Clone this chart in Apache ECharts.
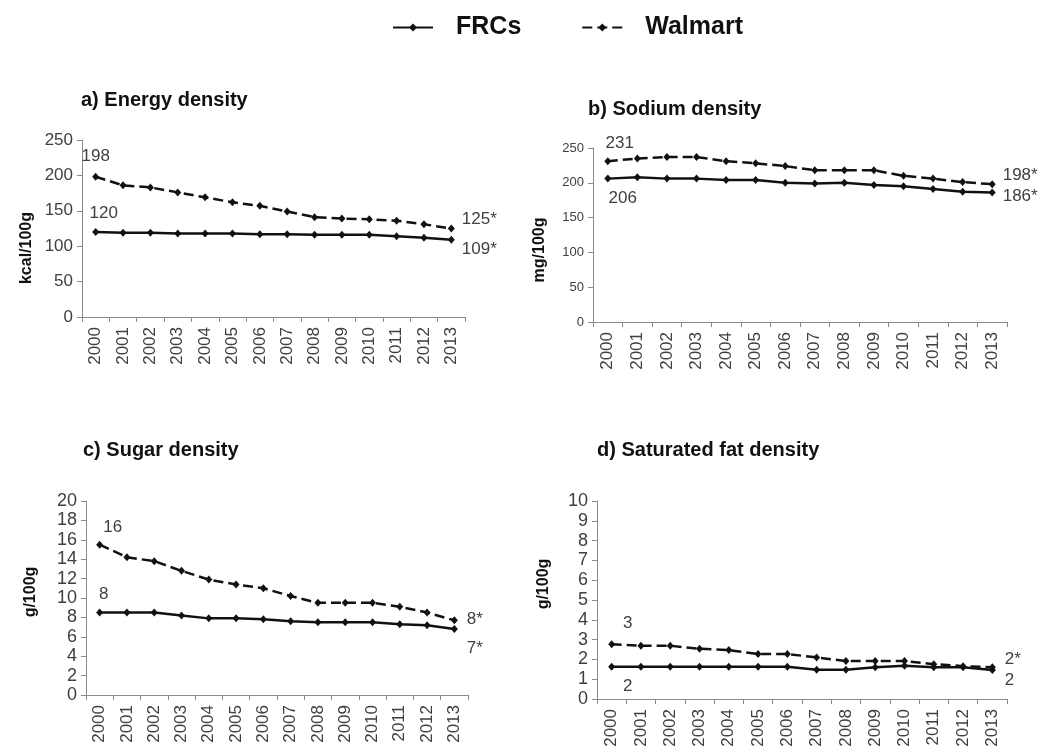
<!DOCTYPE html>
<html>
<head>
<meta charset="utf-8">
<script src="https://cdn.jsdelivr.net/npm/echarts@6/dist/echarts.min.js"></script>
<style>
html, body { margin: 0; padding: 0; background: #fff; }
#chart { width: 1044px; height: 756px; }
</style>
</head>
<body>
<div id="chart"></div>
<script>
const years = ['2000', '2001', '2002', '2003', '2004', '2005', '2006', '2007', '2008', '2009', '2010', '2011', '2012', '2013'];

const energyFrcs = [120, 119, 119, 118, 118, 118, 117, 117, 116, 116, 116, 114, 112, 109];
const energyWalmart = [198, 186, 183, 176, 169, 162, 157, 149, 141, 139, 138, 136, 131, 125];
const sodiumFrcs = [206, 208, 206, 206, 204, 204, 200, 199, 200, 197, 195, 191, 187, 186];
const sodiumWalmart = [231, 235, 237, 237, 231, 228, 224, 218, 218, 218, 210, 206, 201, 198];
const sugarFrcs = [8.5, 8.5, 8.5, 8.2, 7.9, 7.9, 7.8, 7.6, 7.5, 7.5, 7.5, 7.3, 7.2, 6.8];
const sugarWalmart = [15.5, 14.2, 13.8, 12.8, 11.9, 11.4, 11.0, 10.2, 9.5, 9.5, 9.5, 9.1, 8.5, 7.7];
const fatFrcs = [1.63, 1.63, 1.63, 1.63, 1.63, 1.63, 1.63, 1.48, 1.48, 1.6, 1.68, 1.6, 1.6, 1.46];
const fatWalmart = [2.77, 2.69, 2.69, 2.54, 2.47, 2.27, 2.27, 2.1, 1.92, 1.92, 1.92, 1.76, 1.66, 1.6];

// first / last point labels
const energyFrcsLabels = ['120', '109*'];
const energyWalmartLabels = ['198', '125*'];
const sodiumFrcsLabels = ['206', '186*'];
const sodiumWalmartLabels = ['231', '198*'];
const sugarFrcsLabels = ['8', '7*'];
const sugarWalmartLabels = ['16', '8*'];
const fatFrcsLabels = ['2', '2'];
const fatWalmartLabels = ['3', '2*'];

const titles = ['a) Energy density', 'b) Sodium density', 'c) Sugar density', 'd) Saturated fat density'];
const units = ['kcal/100g', 'mg/100g', 'g/100g', 'g/100g'];

const FONT = '"Liberation Sans", Arial, sans-serif';
const TXT = '#404040';
const AXIS = '#8a8a8a';

// layout for each panel
const panels = [
  { grid: { left: 82, top: 140, width: 383, height: 177 }, max: 250, interval: 50, yFont: 17, labFont: 17,
    title: [81, 90], unit: [27, 248],
    frcs: energyFrcs, walmart: energyWalmart, fl: energyFrcsLabels, wl: energyWalmartLabels,
    pos: { fFirst: ['top', [8, -1]], fLast: ['right', [2, 9]], wFirst: ['top', [0, -3]], wLast: ['right', [2, -9]] } },
  { grid: { left: 593, top: 148, width: 414, height: 174 }, max: 250, interval: 50, yFont: 13, labFont: 17,
    title: [588, 99], unit: [540, 250],
    frcs: sodiumFrcs, walmart: sodiumWalmart, fl: sodiumFrcsLabels, wl: sodiumWalmartLabels,
    pos: { fFirst: ['bottom', [15, 2]], fLast: ['right', [2, 4]], wFirst: ['top', [12, 0]], wLast: ['right', [2, -9]] } },
  { grid: { left: 86, top: 501, width: 382, height: 194 }, max: 20, interval: 2, yFont: 18, labFont: 17,
    title: [83, 440], unit: [31, 592],
    frcs: sugarFrcs, walmart: sugarWalmart, fl: sugarFrcsLabels, wl: sugarWalmartLabels,
    pos: { fFirst: ['top', [4, -1]], fLast: ['right', [4, 19]], wFirst: ['top', [13, 0]], wLast: ['right', [4, -1]] } },
  { grid: { left: 597, top: 501, width: 410, height: 198 }, max: 10, interval: 1, yFont: 18, labFont: 17,
    title: [597, 440], unit: [544, 584],
    frcs: fatFrcs, walmart: fatWalmart, fl: fatFrcsLabels, wl: fatWalmartLabels,
    pos: { fFirst: ['bottom', [16, 2]], fLast: ['right', [4, 10]], wFirst: ['top', [16, -3]], wLast: ['right', [4, -8]] } }
];

function withEnds(values, labels, first, last, fontSize) {
  const n = values.length;
  return values.map((v, i) => {
    let p = null, text = null;
    if (i === 0) { p = first; text = labels[0]; }
    if (i === n - 1) { p = last; text = labels[1]; }
    if (!p) return v;
    return {
      value: v,
      label: { show: true, formatter: text, position: p[0], offset: p[1], fontSize: fontSize, color: TXT, fontFamily: FONT }
    };
  });
}

const grids = [], xAxes = [], yAxes = [], series = [], graphics = [];

panels.forEach((p, k) => {
  grids.push(p.grid);
  xAxes.push({
    type: 'category', gridIndex: k, data: years, boundaryGap: true,
    axisLine: { lineStyle: { color: AXIS, width: 1 } },
    axisTick: { show: true, length: 5, lineStyle: { color: AXIS } },
    axisLabel: { rotate: 90, fontSize: 17, color: TXT, fontFamily: FONT, margin: 10 },
    splitLine: { show: false }
  });
  yAxes.push({
    type: 'value', gridIndex: k, min: 0, max: p.max, interval: p.interval,
    axisLine: { show: true, lineStyle: { color: AXIS, width: 1 } },
    axisTick: { show: true, length: 5, lineStyle: { color: AXIS } },
    axisLabel: { fontSize: p.yFont, color: TXT, fontFamily: FONT, margin: 9 },
    splitLine: { show: false }
  });
  series.push({
    name: 'FRCs', type: 'line', xAxisIndex: k, yAxisIndex: k,
    symbol: 'diamond', symbolSize: [7, 8], z: 3,
    lineStyle: { color: '#111', width: 2.5 },
    itemStyle: { color: '#111' },
    data: withEnds(p.frcs, p.fl, p.pos.fFirst, p.pos.fLast, p.labFont)
  });
  series.push({
    name: 'Walmart', type: 'line', xAxisIndex: k, yAxisIndex: k,
    symbol: 'diamond', symbolSize: [7, 8], z: 2,
    lineStyle: { color: '#111', width: 2.5, type: [10, 5] },
    itemStyle: { color: '#111' },
    data: withEnds(p.walmart, p.wl, p.pos.wFirst, p.pos.wLast, p.labFont)
  });
  graphics.push({
    type: 'text', left: p.title[0], top: p.title[1],
    style: { text: titles[k], fontSize: 20, fontWeight: 'bold', fill: '#111', fontFamily: FONT }
  });
  graphics.push({
    type: 'text', x: p.unit[0], y: p.unit[1], rotation: Math.PI / 2,
    style: { text: units[k], fontSize: 16, fontWeight: 'bold', fill: '#111', fontFamily: FONT,
      textAlign: 'center', textVerticalAlign: 'middle' }
  });
});

const myChart = echarts.init(document.getElementById('chart'));
myChart.setOption({
  animation: false,
  backgroundColor: '#fff',
  legend: {
    data: ['FRCs', 'Walmart'],
    left: 387, top: 10,
    itemWidth: 40, itemHeight: 10, itemGap: 60,
    textStyle: { fontSize: 25, fontWeight: 'bold', color: '#111', fontFamily: FONT, padding: [0, 0, 0, 18] }
  },
  grid: grids,
  xAxis: xAxes,
  yAxis: yAxes,
  series: series,
  graphic: graphics
});
</script>
</body>
</html>
